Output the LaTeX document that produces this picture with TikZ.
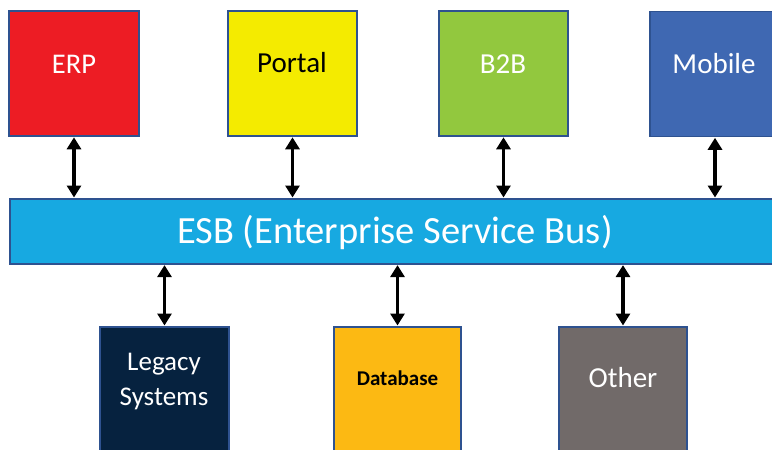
\documentclass[tikz,border=0pt]{standalone}
\usepackage{fontspec}
\setmainfont{Carlito}
\usetikzlibrary{arrows.meta}
\definecolor{cerp}{HTML}{ED1C24}
\definecolor{cportal}{HTML}{F4EB00}
\definecolor{cb2b}{HTML}{92C83E}
\definecolor{cmobile}{HTML}{3F68B2}
\definecolor{cesb}{HTML}{17A9E1}
\definecolor{clegacy}{HTML}{06223F}
\definecolor{cdb}{HTML}{FCB913}
\definecolor{cother}{HTML}{716A69}
\definecolor{cborder}{HTML}{2E5290}
\tikzset{
  sysbox/.style={draw=cborder, line width=1.6pt, inner sep=0pt, minimum width=129pt, minimum height=125pt},
  bigtxt/.style={font=\fontsize{29}{31}\selectfont, text=white, align=center},
  link/.style={line width=3.4pt, {Triangle[width=14pt,length=12pt]}-{Triangle[width=14pt,length=12pt]}, shorten <=0.5pt, shorten >=0.5pt}
}
\begin{document}
\begin{tikzpicture}[x=1pt,y=-1pt]
\useasboundingbox (0,0) rectangle (772,450);
\clip (0,0) rectangle (772,450);
\fill[white] (0,0) rectangle (772,450);
% top boxes
\node[sysbox, fill=cerp, minimum width=130pt] (erp) at (74,73.5) {};
\node[sysbox, fill=cportal] (portal) at (292.5,73.5) {};
\node[sysbox, fill=cb2b] (b2b) at (503.5,73.5) {};
\node[sysbox, fill=cmobile, minimum width=130pt] (mobile) at (715,74) {};
% bus
\node[draw=cborder, line width=1.6pt, fill=cesb, inner sep=0pt, minimum width=790pt, minimum height=65pt, anchor=north west] (esb) at (9,198) {};
% bottom boxes
\node[sysbox, fill=clegacy, minimum height=140pt, anchor=north] (legacy) at (164.5,326) {};
\node[sysbox, fill=cdb, minimum width=127pt, minimum height=140pt, anchor=north] (db) at (397.5,326) {};
\node[sysbox, fill=cother, minimum width=128pt, minimum height=140pt, anchor=north] (other) at (623,326) {};
% labels
\node[bigtxt, font=\fontsize{28.5}{31}\selectfont] (terp) at (74,64) {ERP};
\node[bigtxt, text=black] (tportal) at (292,63) {Portal};
\node[bigtxt] (tb2b) at (503,64) {B2B};
\node[bigtxt] (tmobile) at (714,64) {Mobile};
\node[font=\fontsize{38.5}{40}\selectfont, text=white] (tesb) at (395,233) {ESB (Enterprise Service Bus)};
\node[font=\fontsize{27}{35}\selectfont, text=white, align=center] (tlegacy) at (164,382) {Legacy\\Systems};
\node[font=\bfseries\fontsize{21}{23}\selectfont, text=black] (tdb) at (397.5,378) {Database};
\node[bigtxt] (tother) at (623,378) {Other};
% connectors
\draw[link] (erp.south) -- (erp.south |- esb.north);
\draw[link] (portal.south) -- (portal.south |- esb.north);
\draw[link] (b2b.south) -- (b2b.south |- esb.north);
\draw[link] (mobile.south) -- (mobile.south |- esb.north);
\draw[link] (legacy.north |- esb.south) -- (legacy.north);
\draw[link] (db.north |- esb.south) -- (db.north);
\draw[link] (other.north |- esb.south) -- (other.north);
\end{tikzpicture}
\end{document}
